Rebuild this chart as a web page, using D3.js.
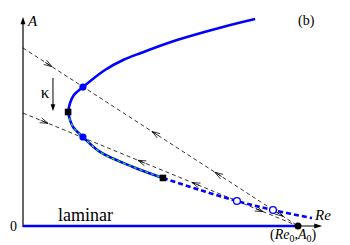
<!DOCTYPE html>
<html><head><meta charset="utf-8">
<script src="https://cdn.jsdelivr.net/npm/d3@7"></script>
<style>body{margin:0;background:#fff}svg{display:block}</style>
</head><body><svg id="c" width="350" height="245" font-family="'Liberation Serif', 'Times New Roman', Times, serif"></svg>
<script>
// Upper (stable) branch, Re vs A
const upperRe = [16.4, 17.1, 18.5, 21.8, 29.8, 36.4, 42.9, 56.0, 72.7, 84.4];
const upperA  = [54.8, 59.1, 63.0, 66.8, 75.0, 79.8, 83.2, 89.4, 95.7, 99.5];
// Lower branch, solid part (nose to square)
const lowerRe = [16.4, 17.1, 18.2, 21.8, 28.0, 40.0, 50.9];
const lowerA  = [54.8, 51.0, 47.6, 42.8, 35.6, 28.4, 23.1];
// Lower branch, dashed continuation
const dashRe = [50.9, 64.4, 77.8, 90.9, 105.1];
const dashA  = [23.1, 17.3, 12.0, 7.7, 3.8];
// markers
const squareRe = [16.4, 50.9], squareA = [54.8, 23.1];
const dotRe = [21.8, 21.8], dotA = [66.8, 42.8];
const openRe = [77.8, 90.9], openA = [12.0, 7.7];
const Re0 = 100, A0 = 0;
// dashed rays from A axis to (Re0,A0)
const rayStartA = [85.6, 54.3];
// arrows along rays: Re position, direction (+1 toward Re0, -1 away)
const rayArrowRe = [[10.5, 46.9, 69.8, 94.5], [9.1, 41.8, 61.5, 87.3]];
const rayArrowDir = [[1, -1, -1, 1], [1, -1, -1, 1]];
const kappaRe = 10.9, kappaFrom = 71.2, kappaTo = 55.2;

const svg = d3.select("#c");
const x = d3.scaleLinear().domain([0, 100]).range([23, 298]);
const y = d3.scaleLinear().domain([0, 100]).range([226, 18]);
const blue = "#0000ff", green = "#22e022";

// axes
svg.append("line").attr("x1", x(0)).attr("y1", y(-0.5)).attr("x2", x(0)).attr("y2", y(97.5))
  .attr("stroke", "#000").attr("stroke-width", 1.2);
svg.append("path").attr("d", d3.line()([[x(0), y(100.5)], [x(0) - 2.5, y(97)], [x(0) + 2.5, y(97)]]) + "Z").attr("fill", "#000");
svg.append("line").attr("x1", x(0)).attr("y1", y(0)).attr("x2", x(106.5)).attr("y2", y(0))
  .attr("stroke", "#000").attr("stroke-width", 1.2);
svg.append("path").attr("d", d3.line()([[x(108.8), y(0)], [x(105.9), y(0) - 2.5], [x(105.9), y(0) + 2.5]]) + "Z").attr("fill", "#000");

// laminar branch
svg.append("line").attr("x1", x(0)).attr("y1", y(0)).attr("x2", x(Re0)).attr("y2", y(0))
  .attr("stroke", blue).attr("stroke-width", 2.6);

// dashed rays
const arrowG = svg.append("g");
rayStartA.forEach((a0, i) => {
  svg.append("line").attr("x1", x(0)).attr("y1", y(a0)).attr("x2", x(Re0)).attr("y2", y(A0))
    .attr("stroke", "#000").attr("stroke-width", 0.8).attr("stroke-dasharray", "4,3");
  rayArrowRe[i].forEach((r, j) => {
    const a = a0 * (1 - r / Re0);
    const px = x(r), py = y(a);
    const dx = x(Re0) - x(0), dy = y(A0) - y(a0);
    const len = Math.hypot(dx, dy);
    const ux = dx / len * rayArrowDir[i][j], uy = dy / len * rayArrowDir[i][j];
    const nx = -uy, ny = ux, L = 8, W = 2.6;
    arrowG.append("path")
      .attr("d", d3.line()([[px - ux * L + nx * W, py - uy * L + ny * W], [px, py], [px - ux * L - nx * W, py - uy * L - ny * W]]))
      .attr("fill", "none").attr("stroke", "#000").attr("stroke-width", 0.8);
    arrowG.append("path")
      .attr("d", d3.line()([[px - ux * L, py - uy * L], [px, py]]))
      .attr("stroke", "#000").attr("stroke-width", 0.8);
  });
});

const line = d3.line().x(d => x(d[0])).y(d => y(d[1])).curve(d3.curveCatmullRom.alpha(0.5));
const zip = (a, b) => a.map((v, i) => [v, b[i]]);

svg.append("path").attr("d", line(zip(upperRe, upperA))).attr("fill", "none").attr("stroke", blue).attr("stroke-width", 2.6);
svg.append("path").attr("d", line(zip(lowerRe, lowerA))).attr("fill", "none").attr("stroke", blue).attr("stroke-width", 2.6);
svg.append("path").attr("d", line(zip(lowerRe, lowerA))).attr("fill", "none").attr("stroke", green).attr("stroke-width", 1.3).attr("stroke-dasharray", "3,3");
svg.append("path").attr("d", line(zip(dashRe, dashA))).attr("fill", "none").attr("stroke", blue).attr("stroke-width", 2.6).attr("stroke-dasharray", "5,3");

// markers
svg.selectAll(".dot").data(zip(dotRe, dotA)).join("circle")
  .attr("cx", d => x(d[0])).attr("cy", d => y(d[1])).attr("r", 3.6).attr("fill", blue);
svg.selectAll(".open").data(zip(openRe, openA)).join("circle")
  .attr("cx", d => x(d[0])).attr("cy", d => y(d[1])).attr("r", 3.4).attr("fill", "#fff").attr("stroke", blue).attr("stroke-width", 1.3);
svg.selectAll(".sq").data(zip(squareRe, squareA)).join("rect")
  .attr("x", d => x(d[0]) - 3.3).attr("y", d => y(d[1]) - 3.3).attr("width", 6.6).attr("height", 6.6).attr("fill", "#000");
svg.append("circle").attr("cx", x(Re0)).attr("cy", y(A0)).attr("r", 3.5).attr("fill", "#000");

// kappa arrow
svg.append("line").attr("x1", x(kappaRe)).attr("y1", y(kappaFrom)).attr("x2", x(kappaRe)).attr("y2", y(kappaTo) - 6)
  .attr("stroke", "#000").attr("stroke-width", 1);
svg.append("path").attr("d", d3.line()([[x(kappaRe), y(kappaTo)], [x(kappaRe) - 2.3, y(kappaTo) - 7], [x(kappaRe) + 2.3, y(kappaTo) - 7]]) + "Z").attr("fill", "#000");
svg.append("text").attr("x", 45).attr("y", 98).attr("text-anchor", "middle").attr("font-size", 17).text("κ");

// labels
svg.append("text").attr("x", 28).attr("y", 26).attr("font-size", 15).attr("font-style", "italic").text("A");
svg.append("text").attr("x", 298).attr("y", 25).attr("font-size", 14).text("(b)");
svg.append("text").attr("x", 10).attr("y", 231).attr("font-size", 14).text("0");
svg.append("text").attr("x", 58).attr("y", 221).attr("font-size", 18).text("laminar");
svg.append("text").attr("x", 315).attr("y", 220).attr("font-size", 15).attr("font-style", "italic").text("Re");
const t = svg.append("text").attr("x", 270).attr("y", 239).attr("font-size", 14);
t.append("tspan").text("(");
t.append("tspan").attr("font-style", "italic").text("Re");
t.append("tspan").attr("font-size", 10).attr("dy", 3).text("0");
t.append("tspan").attr("dy", -3).text(",");
t.append("tspan").attr("font-style", "italic").text("A");
t.append("tspan").attr("font-size", 10).attr("dy", 3).text("0");
t.append("tspan").attr("dy", -3).text(")");
</script></body></html>
